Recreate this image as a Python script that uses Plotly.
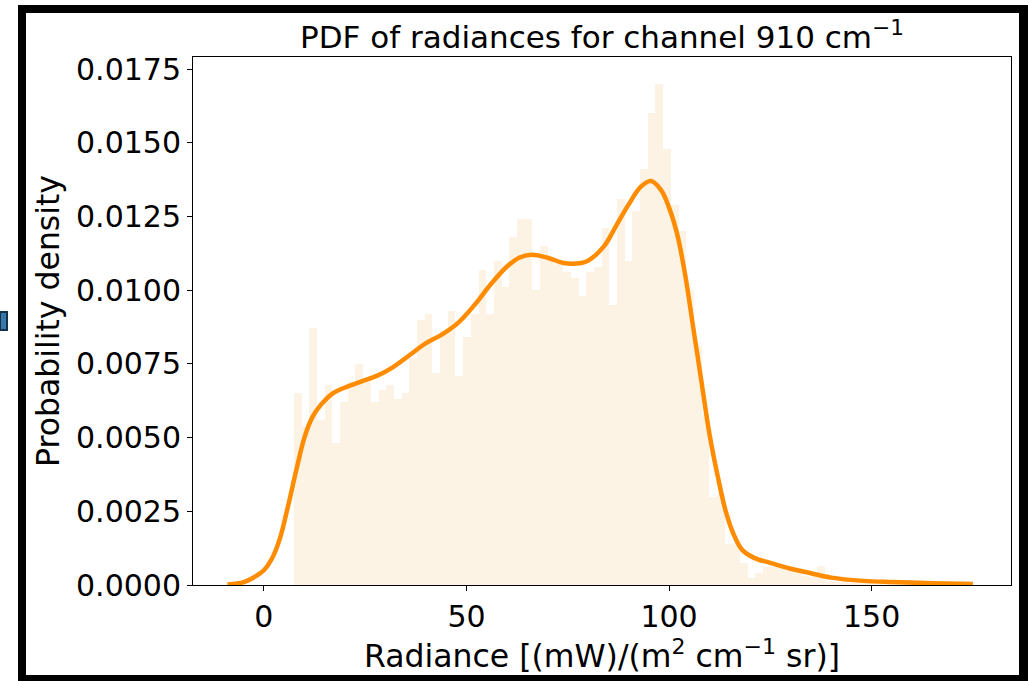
import numpy as np
import plotly.graph_objects as go

# ---------------- data ----------------
hist_min = 7.4
hist_max = 159.3
hist_density = [
    0.0065, 0.0054, 0.0087, 0.0056, 0.0068, 0.0048, 0.0062, 0.0069, 0.0075, 0.0069,
    0.0062, 0.0066, 0.0068, 0.0063, 0.0065, 0.0077, 0.0090, 0.0092, 0.0072, 0.0086,
    0.0093, 0.0071, 0.0084, 0.0092, 0.0107, 0.0092, 0.0110, 0.0101, 0.0118, 0.0124,
    0.0124, 0.0100, 0.0115, 0.0110, 0.0110, 0.0106, 0.0104, 0.0098, 0.0106, 0.0108,
    0.0121, 0.0095, 0.0131, 0.0110, 0.0127, 0.0141, 0.0160, 0.0170, 0.0148, 0.0129,
    0.0120, 0.0100, 0.0081, 0.0058, 0.0030, 0.0031, 0.0014, 0.0014, 0.00075, 0.00025,
    0.00042, 0.00062, 0.00062, 0.00060, 0.00055, 0.00045, 0.00030, 0.00028, 0.00064, 0.00012,
    0.00010, 0.00010, 0.00008, 0.00008, 0.00007, 0.00006, 0.00005, 0.00004, 0.00003, 0.00003,
]

kde_x = [-9, -5, -2, 0, 2, 4, 6, 8, 10, 12, 14, 17, 20, 24, 28, 32, 36, 40, 44, 48,
         52, 56, 60, 63, 66, 70, 74, 77, 80, 84, 87, 90, 93, 95.5, 98, 100, 102, 104,
         106, 108, 110, 112, 114, 116, 118, 121, 125, 130, 135, 140, 148, 155, 165, 175]
kde_y = [0.00002, 0.0001, 0.0003, 0.0005, 0.0009, 0.0016, 0.0027, 0.0039, 0.0050,
         0.0057, 0.0061, 0.0065, 0.0067, 0.0069, 0.0071, 0.0074, 0.0078, 0.0082,
         0.0085, 0.0089, 0.0095, 0.0102, 0.0108, 0.0111, 0.0112, 0.0111, 0.01092,
         0.0109, 0.0110, 0.0115, 0.0122, 0.0129, 0.0135, 0.0137, 0.0134, 0.0128,
         0.0119, 0.0105, 0.0087, 0.0069, 0.0051, 0.0037, 0.0025, 0.0017, 0.0012,
         0.00092, 0.00075, 0.00055, 0.0004, 0.00025, 0.00014, 0.0001, 0.00006, 0.00003]

x_ticks = [0, 50, 100, 150]
y_ticks = [0.0, 0.0025, 0.005, 0.0075, 0.01, 0.0125, 0.015, 0.0175]

title_text = "PDF of radiances for channel 910 cm<sup>\u22121</sup>"
x_label = "Radiance [(mW)/(m<sup>2</sup> cm<sup>\u22121</sup> sr)]"
y_label = "Probability density"

# ---------------- figure ----------------
W, H = 1028, 681
L, R, T, B = 193, 1011, 57, 585

n_bins = len(hist_density)
edges = np.linspace(hist_min, hist_max, n_bins + 1)
centers = (edges[:-1] + edges[1:]) / 2
bw = edges[1] - edges[0]

font = "DejaVu Sans"

fig = go.Figure()
fig.add_trace(go.Bar(x=centers, y=hist_density, width=bw,
                     marker=dict(color="#FDF3E4", line=dict(width=0)),
                     hoverinfo="skip", showlegend=False))
fig.add_trace(go.Scatter(x=kde_x, y=kde_y, mode="lines",
                         line=dict(color="#FF8C00", width=4.5, shape="spline", smoothing=1.0),
                         showlegend=False))

fig.update_layout(
    width=W, height=H,
    margin=dict(l=L, r=W - R, t=T, b=H - B, pad=0),
    paper_bgcolor="white", plot_bgcolor="white",
    bargap=0,
    font=dict(family=font, size=30, color="black"),
    title=dict(text=title_text, x=0.5, xref="paper", xanchor="center",
               y=1 - 37 / H, yref="container", yanchor="middle",
               font=dict(family=font, size=31, color="black")),
)

fig.update_xaxes(range=[-17.5, 184.4], tickvals=x_ticks, ticktext=[str(v) for v in x_ticks],
                 showgrid=False, zeroline=False, showline=True, mirror=True,
                 linecolor="black", linewidth=1, ticks="outside", ticklen=5,
                 tickcolor="black", tickwidth=1,
                 tickfont=dict(family=font, size=30),
                 title=dict(text=x_label, font=dict(family=font, size=31.5), standoff=3))
fig.update_yaxes(range=[0, 0.017907], tickvals=y_ticks, ticktext=[f"{v:.4f}" for v in y_ticks],
                 showgrid=False, zeroline=False, showline=True, mirror=True,
                 linecolor="black", linewidth=1, ticks="outside", ticklen=5,
                 tickcolor="black", tickwidth=1,
                 tickfont=dict(family=font, size=30),
                 title=dict(text=y_label, font=dict(family=font, size=31.5), standoff=6))

def px(x):
    return (x - L) / (R - L)

def py(y):
    return (B - y) / (B - T)

frame = [(18, 5, 26, 681), (18, 5, 1028, 13), (1019, 5, 1028, 681), (18, 675, 1028, 681)]
for x0, y0, x1, y1 in frame:
    fig.add_shape(type="rect", xref="paper", yref="paper",
                  x0=px(x0), x1=px(x1), y0=py(y1), y1=py(y0),
                  fillcolor="black", line=dict(width=0), layer="above")
fig.add_shape(type="rect", xref="paper", yref="paper",
              x0=px(0), x1=px(7), y0=py(330), y1=py(312),
              fillcolor="#3a78aa", line=dict(color="#12324d", width=2), layer="above")

fig.write_html("out.html")
